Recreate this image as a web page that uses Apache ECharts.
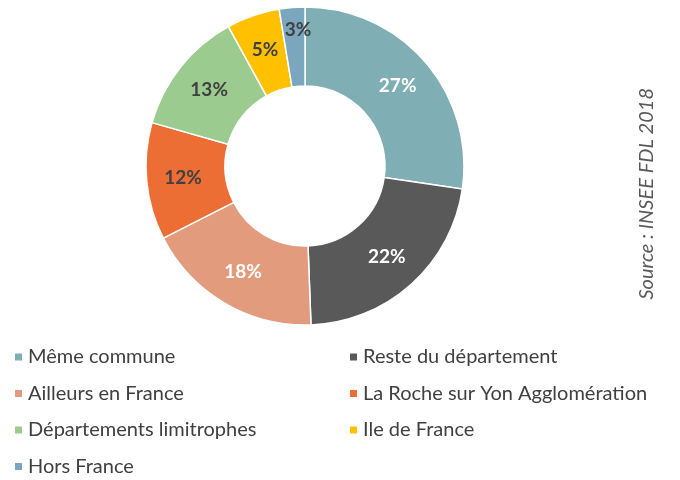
<!DOCTYPE html>
<html>
<head>
<meta charset="utf-8">
<script src="https://cdn.jsdelivr.net/npm/echarts@6/dist/echarts.min.js"></script>
<style>
  html, body { margin: 0; padding: 0; background: #fff; }
  #main { width: 680px; height: 480px; }
</style>
</head>
<body>
<div id="main"></div>
<script>
// données (ordre horaire depuis le haut)
const categories = [
  'Même commune',
  'Reste du département',
  'Ailleurs en France',
  'La Roche sur Yon Agglomération',
  'Départements limitrophes',
  'Ile de France',
  'Hors France'
];
const values = [27.3, 22.1, 18.1, 11.9, 12.6, 5.4, 2.6];
const colors = ['#7FAFB4', '#595959', '#E29C7D', '#EC6E35', '#9BCB8F', '#FFC000', '#7BA7BE'];
const labelColors = ['#fff', '#fff', '#fff', '#404040', '#404040', '#404040', '#404040'];

// légende sur deux colonnes
const legendLeft = [categories[0], categories[2], categories[4], categories[6]];
const legendRight = [categories[1], categories[3], categories[5]];

const font = 'Lato, "Open Sans", sans-serif';

const myChart = echarts.init(document.getElementById('main'));

const legendBase = {
  orient: 'vertical',
  top: 347,
  height: 133,
  padding: 0,
  itemWidth: 9,
  itemHeight: 9,
  itemGap: 16.5,
  icon: 'rect',
  textStyle: { fontFamily: font, fontSize: 20, color: '#404040' },
  selectedMode: false
};

myChart.setOption({
  color: colors,
  animation: false,
  legend: [
    Object.assign({}, legendBase, { left: 13, data: legendLeft }),
    Object.assign({}, legendBase, { left: 348, data: legendRight })
  ],
  graphic: [{
    type: 'text',
    left: 637,
    top: 88,
    rotation: Math.PI / 2,
    style: {
      text: 'Source : INSEE FDL 2018',
      fontFamily: font,
      fontStyle: 'italic',
      fontSize: 20,
      fill: '#595959'
    }
  }],
  series: [{
    type: 'pie',
    center: [305, 166],
    radius: [80, 159],
    startAngle: 90,
    clockwise: true,
    avoidLabelOverlap: false,
    itemStyle: { borderColor: '#fff', borderWidth: 1.5 },
    label: {
      show: true,
      position: 'inside',
      fontFamily: font,
      fontWeight: 'bold',
      fontSize: 19,
      formatter: p => Math.round(p.value) + '%'
    },
    labelLine: { show: false },
    emphasis: { disabled: true },
    data: categories.map((name, i) => ({
      name: name,
      value: values[i],
      // la petite étiquette "3%" est remontée vers le bord comme dans l'original
      label: i === 6
        ? { color: labelColors[i], offset: [3, -14] }
        : { color: labelColors[i] }
    }))
  }]
});
</script>
</body>
</html>
